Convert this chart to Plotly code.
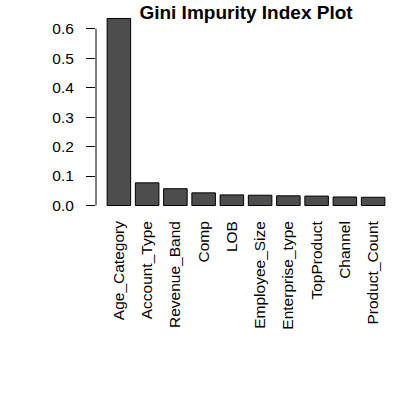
import plotly.graph_objects as go

# Gini impurity per feature
features = ["Age_Category", "Account_Type", "Revenue_Band", "Comp", "LOB",
            "Employee_Size", "Enterprise_type", "TopProduct", "Channel", "Product_Count"]
gini = [0.635, 0.077, 0.057, 0.043, 0.036, 0.035, 0.033, 0.032, 0.029, 0.028]

y_ticks = [0.0, 0.1, 0.2, 0.3, 0.4, 0.5, 0.6]
y_tick_text = ["0.0", "0.1", "0.2", "0.3", "0.4", "0.5", "0.6"]

ymax = max(gini)
pad = 0.04 * ymax

fig = go.Figure(
    go.Bar(
        x=features,
        y=gini,
        marker=dict(color="#4d4d4d", line=dict(color="black", width=1)),
    )
)

fig.update_layout(
    width=415,
    height=400,
    margin=dict(l=96, r=19, t=11, b=187),
    plot_bgcolor="white",
    paper_bgcolor="white",
    font=dict(family="Liberation Sans, Arial, sans-serif", size=15.5, color="black"),
    bargap=0.2 / 1.2,
    showlegend=False,
    title=dict(
        text="<b>Gini Impurity Index Plot</b>",
        font=dict(size=19, color="black"),
        x=0.5,
        xref="paper",
        xanchor="center",
        y=0.985,
        yref="container",
        yanchor="top",
    ),
    xaxis=dict(
        range=[-0.81, 9.81],
        showgrid=False,
        zeroline=False,
        showline=False,
        ticks="",
        tickangle=-90,
        ticklabelstandoff=4,
        tickfont=dict(size=15.5),
    ),
    yaxis=dict(
        range=[-pad, ymax + pad],
        showgrid=False,
        zeroline=False,
        showline=False,
        tickmode="array",
        tickvals=y_ticks,
        ticktext=y_tick_text,
        ticks="outside",
        ticklen=9,
        tickwidth=1,
        tickcolor="black",
        ticklabelstandoff=9,
        tickfont=dict(size=15.5),
    ),
    shapes=[
        # y axis line spans only the tick range
        dict(type="line", xref="paper", yref="y", x0=0, x1=0,
             y0=y_ticks[0], y1=y_ticks[-1], line=dict(color="black", width=1)),
    ],
)

fig.write_html("out.html")
